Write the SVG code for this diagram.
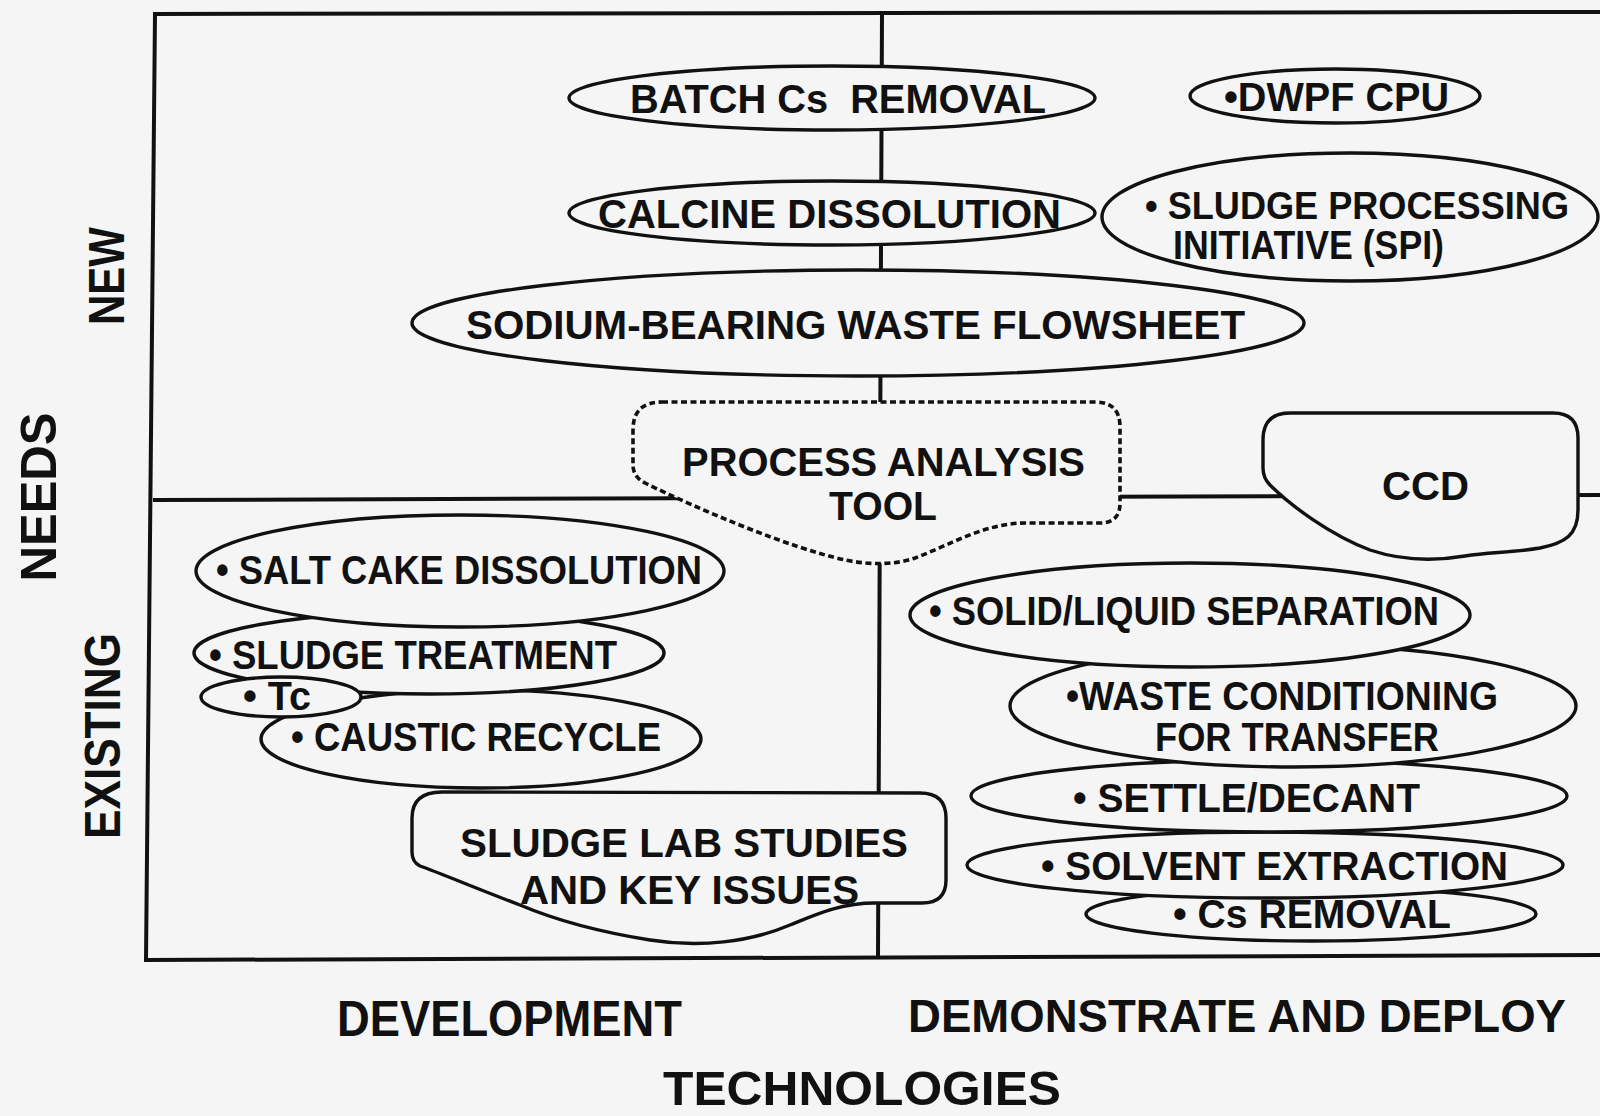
<svg xmlns="http://www.w3.org/2000/svg" width="1600" height="1116" viewBox="0 0 1600 1116">
<style>
.bg{fill:#f5f5f5}
.frame{fill:none;stroke:#111;stroke-width:4;stroke-linecap:square}
.shape{fill:#f5f5f5;stroke:#111;stroke-width:3.4}
.dash{fill:#f5f5f5;stroke:#111;stroke-width:3.6;stroke-dasharray:6 3.5}
.t{font-family:"Liberation Sans",Arial,Helvetica,sans-serif;font-weight:bold;font-size:40px;fill:#111}
.ax{font-family:"Liberation Sans",Arial,Helvetica,sans-serif;font-weight:bold;font-size:50px;fill:#111}
</style>
<rect class="bg" x="0" y="0" width="1600" height="1116"/>
<g id="connectors">
<path class="frame" d="M155 14 L1600 12"/>
<path class="frame" d="M155 14 L146 960"/>
<path class="frame" d="M146 960 L1600 955"/>
<path class="frame" d="M882 13 L878 957"/>
<path class="frame" d="M155 500 L1600 495"/>
</g>
<g id="axis-labels">
<text class="ax" transform="translate(56,497) rotate(-90)" text-anchor="middle" textLength="169" lengthAdjust="spacingAndGlyphs">NEEDS</text>
<text class="ax" transform="translate(124,276) rotate(-90)" text-anchor="middle" textLength="98" lengthAdjust="spacingAndGlyphs">NEW</text>
<text class="ax" transform="translate(120,736) rotate(-90)" text-anchor="middle" textLength="206" lengthAdjust="spacingAndGlyphs">EXISTING</text>
<text class="ax" x="337" y="1036" textLength="345" lengthAdjust="spacingAndGlyphs">DEVELOPMENT</text>
<text class="ax" x="908" y="1032" style="font-size:47px" textLength="658" lengthAdjust="spacingAndGlyphs">DEMONSTRATE AND DEPLOY</text>
<text class="ax" x="663" y="1105" style="font-size:48px" textLength="398" lengthAdjust="spacingAndGlyphs">TECHNOLOGIES</text>
</g>
<g id="batch-cs-removal">
<ellipse class="shape" cx="832" cy="98" rx="263" ry="32"/>
<text class="t" x="630" y="113" style="white-space:pre" xml:space="preserve" textLength="416" lengthAdjust="spacingAndGlyphs">BATCH Cs  REMOVAL</text>
</g>
<g id="dwpf-cpu">
<ellipse class="shape" cx="1335" cy="96" rx="145" ry="27"/>
<text class="t" x="1224" y="111" textLength="225" lengthAdjust="spacingAndGlyphs">•DWPF CPU</text>
</g>
<g id="calcine-dissolution">
<ellipse class="shape" cx="832" cy="213" rx="263" ry="32"/>
<text class="t" x="598" y="228" textLength="463" lengthAdjust="spacingAndGlyphs">CALCINE DISSOLUTION</text>
</g>
<g id="spi">
<ellipse class="shape" cx="1350" cy="217" rx="248" ry="64"/>
<text class="t" x="1145" y="219" style="font-size:38px" textLength="424" lengthAdjust="spacingAndGlyphs">• SLUDGE PROCESSING</text>
<text class="t" x="1173" y="259" textLength="271" lengthAdjust="spacingAndGlyphs">INITIATIVE (SPI)</text>
</g>
<g id="sodium-bearing">
<ellipse class="shape" cx="858" cy="323" rx="446" ry="53"/>
<text class="t" x="466" y="339" textLength="779" lengthAdjust="spacingAndGlyphs">SODIUM-BEARING WASTE FLOWSHEET</text>
</g>
<g id="process-analysis-tool">
<path class="dash" d="M662 402 L1095 402 Q1120 402 1120 427 L1120 503 Q1120 523 1100 523 L1025 523 C985 523 950 545 915 558 C895 565 870 565 845 560 C790 548 700 510 645 483 Q633 477 633 465 L633 430 Q633 402 662 402 Z"/>
<text class="t" x="682" y="476" textLength="403" lengthAdjust="spacingAndGlyphs">PROCESS ANALYSIS</text>
<text class="t" x="829" y="520" textLength="108" lengthAdjust="spacingAndGlyphs">TOOL</text>
</g>
<g id="ccd">
<path class="shape" d="M1290 413 L1553 413 Q1578 413 1578 438 L1578 510 C1578 535 1565 543 1540 548 C1510 553 1490 552 1465 556 C1430 562 1400 560 1370 550 C1330 535 1290 505 1270 485 Q1263 478 1263 468 L1263 440 Q1263 413 1290 413 Z"/>
<text class="t" x="1382" y="500" textLength="87" lengthAdjust="spacingAndGlyphs">CCD</text>
</g>
<g id="caustic-recycle">
<ellipse class="shape" cx="481" cy="739" rx="220" ry="49"/>
<text class="t" x="291" y="751" textLength="370" lengthAdjust="spacingAndGlyphs">• CAUSTIC RECYCLE</text>
</g>
<g id="sludge-treatment">
<ellipse class="shape" cx="429" cy="653" rx="235" ry="41"/>
<text class="t" x="209" y="669" textLength="408" lengthAdjust="spacingAndGlyphs">• SLUDGE TREATMENT</text>
</g>
<g id="tc">
<ellipse class="shape" cx="281" cy="697" rx="80" ry="20"/>
<text class="t" x="243" y="710" textLength="68" lengthAdjust="spacingAndGlyphs">• Tc</text>
</g>
<g id="salt-cake-dissolution">
<ellipse class="shape" cx="460" cy="571" rx="264" ry="56"/>
<text class="t" x="216" y="584" textLength="486" lengthAdjust="spacingAndGlyphs">• SALT CAKE DISSOLUTION</text>
</g>
<g id="sludge-lab-studies">
<path class="shape" d="M442 792 L920 793 Q946 793 946 818 L946 880 Q946 903 922 903 L875 903 C840 903 815 915 790 925 C750 942 700 948 650 940 C600 932 560 922 520 905 C480 890 440 873 420 866 Q412 862 412 852 L412 818 Q412 792 442 792 Z"/>
<text class="t" x="460" y="857" textLength="448" lengthAdjust="spacingAndGlyphs">SLUDGE LAB STUDIES</text>
<text class="t" x="520" y="904" textLength="339" lengthAdjust="spacingAndGlyphs">AND KEY ISSUES</text>
</g>
<g id="cs-removal">
<ellipse class="shape" cx="1311" cy="914" rx="225" ry="27"/>
<text class="t" x="1173" y="928" textLength="278" lengthAdjust="spacingAndGlyphs">• Cs REMOVAL</text>
</g>
<g id="solvent-extraction">
<ellipse class="shape" cx="1265" cy="865" rx="298" ry="33"/>
<text class="t" x="1041" y="880" textLength="467" lengthAdjust="spacingAndGlyphs">• SOLVENT EXTRACTION</text>
</g>
<g id="settle-decant">
<ellipse class="shape" cx="1269" cy="796" rx="298" ry="36"/>
<text class="t" x="1073" y="812" textLength="347" lengthAdjust="spacingAndGlyphs">• SETTLE/DECANT</text>
</g>
<g id="waste-conditioning">
<ellipse class="shape" cx="1293" cy="706" rx="283" ry="61"/>
<text class="t" x="1066" y="710" textLength="432" lengthAdjust="spacingAndGlyphs">•WASTE CONDITIONING</text>
<text class="t" x="1155" y="751" textLength="284" lengthAdjust="spacingAndGlyphs">FOR TRANSFER</text>
</g>
<g id="solid-liquid-separation">
<ellipse class="shape" cx="1190" cy="615" rx="280" ry="52"/>
<text class="t" x="929" y="625" textLength="510" lengthAdjust="spacingAndGlyphs">• SOLID/LIQUID SEPARATION</text>
</g>
</svg>
